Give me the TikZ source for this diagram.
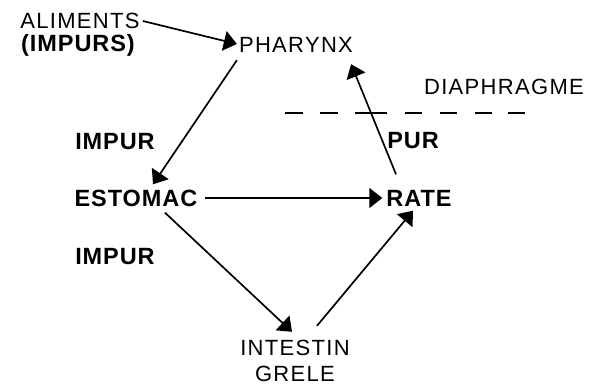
\documentclass[tikz,border=0pt]{standalone}
\usepackage{fontspec}
\setmainfont{Liberation Sans}
\newfontfamily\regf[LetterSpace=6]{Liberation Sans}
\newfontfamily\boldf[LetterSpace=4]{Liberation Sans Bold}
\usetikzlibrary{arrows.meta}
\tikzset{
  lbl/.style={inner sep=3pt, text height=16pt, text depth=0pt, font=\regf\fontsize{22}{24}\selectfont},
  blbl/.style={inner sep=3pt, text height=17pt, text depth=0pt, font=\boldf\fontsize{23.5}{26}\selectfont},
  tight/.style={inner sep=0pt},
  conn/.style={line width=1.7pt, -{Triangle[length=13pt,width=20pt]}},
  dia/.style={line width=2pt, dash pattern=on 18pt off 17pt on 18pt off 17pt on 32pt off 18pt on 17pt off 18pt on 17pt off 18pt on 17pt off 16pt on 17pt}
}
\begin{document}
\begin{tikzpicture}[x=1pt,y=-1pt]
\useasboundingbox (0,0) rectangle (604,385);
\node[lbl,tight]  (aliments) at (80,21) {ALIMENTS};
\node[blbl,tight] (impurs)   at (78,43) {(IMPURS)};
\node[lbl]  (pharynx)  at (296,45) {PHARYNX};
\node[lbl]  (diaphragme) at (504,87) {DIAPHRAGME};
\node[blbl] (pur)      at (413,140) {PUR};
\node[blbl] (impurA)   at (115,141) {IMPUR};
\node[blbl] (estomac)  at (136,198) {ESTOMAC};
\node[blbl] (rate)     at (419,198) {RATE};
\node[blbl] (impurB)   at (115,256) {IMPUR};
\node[lbl]  (intestin) at (295,347) {INTESTIN};
\node[lbl,tight]  (grele)    at (295,373) {GRELE};
\coordinate (diaL) at (285,113);
\coordinate (diaR) at (525,113);
\draw[dia] (diaL) -- (diaR);
\draw[conn] ([xshift=3pt]aliments.east) -- ([xshift=1pt,yshift=1pt]pharynx.west);
\draw[conn] ([xshift=1pt,yshift=-4pt]pharynx.south west) -- ([xshift=17pt,yshift=2pt]estomac.north);
\draw[conn] ([xshift=4pt]estomac.east) -- ([xshift=-1pt]rate.west);
\draw[conn] ([xshift=29pt,yshift=-3pt]estomac.south) -- ([xshift=-3pt,yshift=4pt]intestin.north);
\draw[conn] ([xshift=22pt,yshift=10pt]intestin.north) -- ([xshift=-6pt,yshift=-1pt]rate.south);
\draw[conn] ([xshift=-23pt,yshift=12pt]rate.north) -- ([xshift=-5pt,yshift=-8pt]pharynx.south east);
\end{tikzpicture}
\end{document}
